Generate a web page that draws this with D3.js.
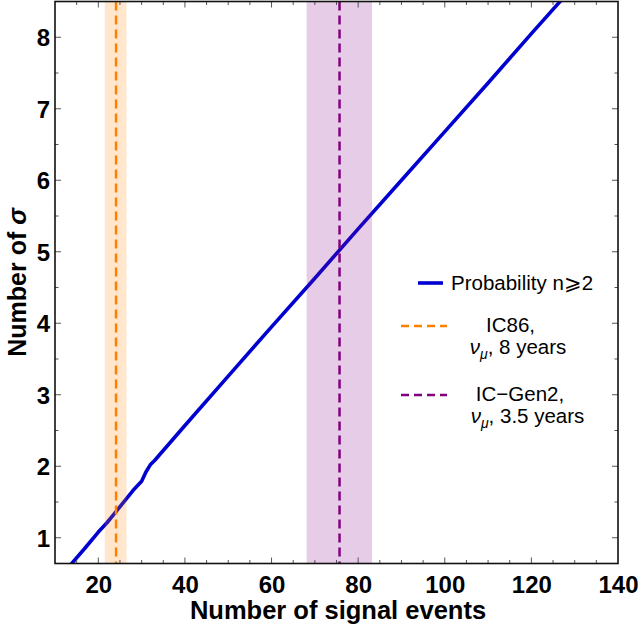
<!DOCTYPE html>
<html><head><meta charset="utf-8">
<script src="https://cdn.jsdelivr.net/npm/d3@7"></script>
<style>
html,body{margin:0;padding:0;background:#fff;}
svg{display:block;font-family:"Liberation Sans",Arial,sans-serif;}
</style></head>
<body><svg id="c" width="642" height="630"></svg>
<script>
// ---- data ----
const sigEvents = [13.5, 17, 20, 22, 24, 26, 28, 30, 31, 32, 33, 36, 40, 50, 60, 70, 80, 90, 100, 110, 120, 127.5];
const nSigma    = [0.615, 0.86, 1.08, 1.21, 1.36, 1.51, 1.66, 1.79, 1.92, 2.02, 2.08, 2.29, 2.57, 3.26, 3.95, 4.63, 5.32, 6.0, 6.68, 7.36, 8.05, 8.56];
const bandNames   = ["IC86", "IC-Gen2"];
const bandCenter  = [24.1, 75.7];
const bandLow     = [21.5, 68.1];
const bandHigh    = [26.5, 83.2];
const bandColors  = ["#ff8000", "#800080"];
const xTicks = [20, 40, 60, 80, 100, 120, 140];
const yTicks = [1, 2, 3, 4, 5, 6, 7, 8];
const xDomain = [10, 140];
const yDomain = [0.64, 8.5];

// ---- layout ----
const svg = d3.select("#c");
const L = 55, R = 618, T = 1.5, B = 563.5;
const x = d3.scaleLinear().domain(xDomain).range([L, R]);
const y = d3.scaleLinear().domain(yDomain).range([B, T]);

svg.append("defs").append("clipPath").attr("id","clip")
  .append("rect").attr("x",L).attr("y",T).attr("width",R-L).attr("height",B-T);

const plot = svg.append("g").attr("clip-path","url(#clip)");

// line
const pts = sigEvents.map((v,i)=>[v,nSigma[i]]);
plot.append("path").datum(pts)
  .attr("d", d3.line().x(d=>x(d[0])).y(d=>y(d[1])))
  .attr("fill","none").attr("stroke","#0000d0").attr("stroke-width",3.6)
  .attr("stroke-linejoin","round");

// bands (drawn above line, translucent)
bandNames.forEach((n,i)=>{
  plot.append("rect").attr("x",x(bandLow[i])).attr("width",x(bandHigh[i])-x(bandLow[i]))
    .attr("y",T).attr("height",B-T).attr("fill",bandColors[i]).attr("fill-opacity",0.2);
  plot.append("line").attr("x1",x(bandCenter[i])).attr("x2",x(bandCenter[i]))
    .attr("y1",T).attr("y2",B).attr("stroke",bandColors[i]).attr("stroke-width",2.5)
    .attr("stroke-dasharray","9,5");
});

// ticks (inside, all four sides)
const xMinor = d3.range(15, 140, 5);
const yMinor = d3.range(1, 8.5, 0.5);
const tk = svg.append("g").attr("stroke","#555").attr("stroke-width",1);
xMinor.forEach(v=>{
  const len = (v % 20 === 0) ? 6 : 3.5;
  tk.append("line").attr("x1",x(v)).attr("x2",x(v)).attr("y1",B).attr("y2",B-len);
  tk.append("line").attr("x1",x(v)).attr("x2",x(v)).attr("y1",T).attr("y2",T+len);
});
yMinor.forEach(v=>{
  const len = (v % 1 === 0) ? 6 : 3.5;
  tk.append("line").attr("y1",y(v)).attr("y2",y(v)).attr("x1",L).attr("x2",L+len);
  tk.append("line").attr("y1",y(v)).attr("y2",y(v)).attr("x1",R).attr("x2",R-len);
});

// frame
svg.append("rect").attr("x",L).attr("y",T).attr("width",R-L).attr("height",B-T)
  .attr("fill","none").attr("stroke","#111").attr("stroke-width",1.6);

// tick labels via d3 axes (no tick lines)
const xAx = svg.append("g").attr("transform",`translate(0,${B})`)
  .call(d3.axisBottom(x).tickValues(xTicks).tickSize(0).tickPadding(0).tickFormat(d3.format("d")));
xAx.select(".domain").remove();
xAx.selectAll("text").attr("y",29).attr("dy",0).attr("font-size",24).attr("font-weight","bold")
  .attr("font-family","'Liberation Sans',Arial,sans-serif").attr("fill","#000");

const yAx = svg.append("g").attr("transform",`translate(${L},0)`)
  .call(d3.axisLeft(y).tickValues(yTicks).tickSize(0).tickPadding(0).tickFormat(d3.format("d")));
yAx.select(".domain").remove();
yAx.selectAll("text").attr("x",-5).attr("dy","0.36em").attr("font-size",24).attr("font-weight","bold")
  .attr("font-family","'Liberation Sans',Arial,sans-serif").attr("fill","#000");

// axis titles
svg.append("text").attr("x",338).attr("y",619).attr("text-anchor","middle")
  .attr("font-size",25.5).attr("font-weight","bold").text("Number of signal events");
const yt = svg.append("text").attr("transform",`translate(26,${(T+B)/2}) rotate(-90)`)
  .attr("text-anchor","middle").attr("font-size",25).attr("font-weight","bold");
yt.append("tspan").text("Number of ");
yt.append("tspan").attr("font-style","italic").text("σ");

// legend
const lg = svg.append("g").attr("font-size",20.5).attr("fill","#000");
lg.append("line").attr("x1",418).attr("x2",443).attr("y1",283).attr("y2",283)
  .attr("stroke","#0000d0").attr("stroke-width",3.6);
lg.append("text").attr("x",451).attr("y",290).text("Probability n\u2A7E2");

const legY = [326, 395];
const legL1 = ["IC86,", "IC\u2212Gen2,"];
const legL2 = ["8 years", "3.5 years"];
const c1 = [510.5, 520];
const c2 = [518, 527.5];
bandNames.forEach((n,i)=>{
  lg.append("line").attr("x1",401).attr("x2",447).attr("y1",legY[i]).attr("y2",legY[i])
    .attr("stroke",bandColors[i]).attr("stroke-width",2.5).attr("stroke-dasharray","8,5");
  lg.append("text").attr("x",c1[i]).attr("y",legY[i]+6).attr("text-anchor","middle").text(legL1[i]);
  const t = lg.append("text").attr("x",c2[i]).attr("y",legY[i]+28).attr("text-anchor","middle");
  t.append("tspan").attr("font-style","italic").text("ν");
  t.append("tspan").attr("font-style","italic").attr("font-size",14).attr("dy",5).text("μ");
  t.append("tspan").attr("dy",-5).text(", " + legL2[i]);
});
</script></body></html>
